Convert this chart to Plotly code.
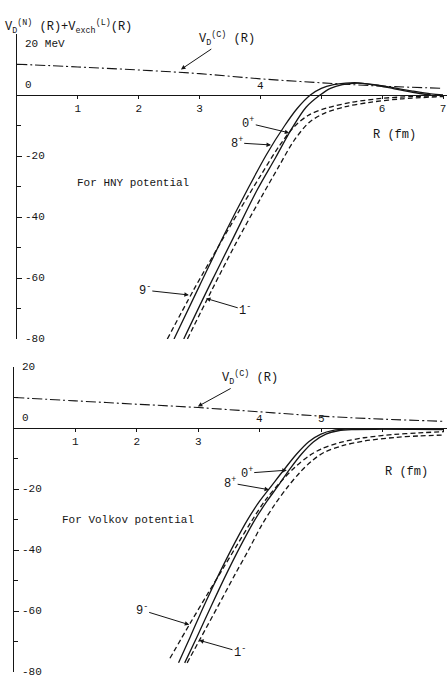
import plotly.graph_objects as go

# ---------------- data: upper panel (HNY potential) ----------------
R_coul_top = [0, 1, 2, 3, 4, 5, 6, 7]
V_coul_top = [10.1, 9.2, 8.2, 7.0, 5.3, 4.0, 2.9, 2.2]

R_8p_top = [2.58, 3.0, 3.4, 3.8, 4.1, 4.4, 4.6, 4.82, 5.0, 5.2, 5.4, 5.6, 5.9, 6.2, 6.5, 6.8, 7.0]
V_8p_top = [-80, -62.5, -46, -30.5, -19.5, -10, -4.5, 0, 2.2, 3.4, 3.9, 4.0, 3.3, 2.3, 1.3, 0.4, 0]

R_0p_top = [2.74, 3.15, 3.55, 3.95, 4.25, 4.5, 4.75, 4.98, 5.15, 5.35, 5.6, 5.9, 6.2, 6.5, 6.8]
V_0p_top = [-80, -63, -47, -31, -20.5, -11.5, -4, 0, 2.2, 3.4, 3.9, 3.2, 2.0, 0.9, 0]

R_9m_top = [2.47, 2.9, 3.3, 3.65, 4.0, 4.3, 4.55, 4.8, 5.1, 5.5, 6.0, 6.5, 7.0]
V_9m_top = [-80, -64, -50, -38, -26.5, -17, -10.5, -6.5, -4.2, -2.4, -1.1, -0.5, -0.3]

R_1m_top = [2.80, 3.2, 3.6, 4.0, 4.3, 4.55, 4.8, 5.05, 5.4, 5.8, 6.3, 7.0]
V_1m_top = [-80, -64, -48.5, -34, -23.5, -15, -9, -6, -3.8, -2.4, -1.3, -0.5]

# ---------------- data: lower panel (Volkov potential) ----------------
R_coul_bot = [0, 1, 2, 3, 4, 5, 6, 7]
V_coul_bot = [10.0, 8.9, 7.8, 6.7, 5.3, 3.9, 2.9, 2.2]

R_8p_bot = [2.68, 2.87, 3.1, 3.36, 3.6, 3.8, 4.0, 4.2, 4.4, 4.6, 4.8, 5.0, 5.2, 5.4, 6.0, 7.0]
V_8p_bot = [-77, -68.5, -58, -47, -37.5, -30.2, -24, -18.8, -13.6, -8.6, -4.5, -2.0, -0.8, -0.4, -0.3, -0.4]

R_0p_bot = [2.78, 2.98, 3.22, 3.48, 3.72, 3.92, 4.12, 4.30, 4.48, 4.68, 4.88, 5.08, 5.28, 5.5, 6.0, 7.0]
V_0p_bot = [-77, -68.5, -58, -47, -37.5, -30.2, -24, -19, -13.8, -8.6, -4.5, -2.0, -0.9, -0.5, -0.4, -0.5]

R_9m_bot = [2.54, 2.87, 3.15, 3.40, 3.65, 3.87, 4.1, 4.35, 4.58, 4.80, 5.0, 5.3, 5.7, 6.2, 6.6, 7.0]
V_9m_bot = [-75.5, -64, -54.5, -46.2, -37.8, -30.5, -23.5, -17.5, -12.8, -9.2, -6.9, -4.8, -3.2, -2.1, -1.6, -1.2]

R_1m_bot = [2.82, 3.05, 3.32, 3.60, 3.82, 4.03, 4.25, 4.45, 4.66, 4.85, 5.05, 5.35, 5.7, 6.2, 6.6, 7.0]
V_1m_bot = [-77, -68.5, -58.5, -48, -40, -32, -25, -19.5, -14.5, -10.8, -8.0, -5.8, -4.3, -3.1, -2.6, -2.3]

x_ticks = [1, 2, 3, 4, 5, 6, 7]
x_text_top = ["1", "2", "3", "", "", "6", "7"]
x_text_bot = ["1", "2", "3", "", "", "", "7"]
y_ticks = [-80, -60, -40, -20, 20]
y_text_top = ["-80", "-60", "-40", "-20", "20 MeV"]
y_text_bot = ["-80", "-60", "-40", "-20", "20"]

INK = "#151515"
FONT = "Liberation Mono"
W, H = 447, 683

fig = go.Figure()

def add_panel(xa, ya, Rc, Vc, curves):
    fig.add_trace(go.Scatter(x=Rc, y=Vc, mode="lines", xaxis=xa, yaxis=ya,
                             line=dict(color=INK, width=1.1, dash="10px,3px,2px,3px", shape="spline"),
                             showlegend=False, hoverinfo="skip"))
    for R, V, dash in curves:
        fig.add_trace(go.Scatter(x=R, y=V, mode="lines", xaxis=xa, yaxis=ya,
                                 line=dict(color=INK, width=1.3, dash=dash, shape="spline", smoothing=0.9),
                                 showlegend=False, hoverinfo="skip"))

add_panel("x", "y", R_coul_top, V_coul_top,
          [(R_8p_top, V_8p_top, "solid"), (R_0p_top, V_0p_top, "solid"),
           (R_9m_top, V_9m_top, "5px,3px"), (R_1m_top, V_1m_top, "5px,3px")])
add_panel("x2", "y2", R_coul_bot, V_coul_bot,
          [(R_8p_bot, V_8p_bot, "solid"), (R_0p_bot, V_0p_bot, "solid"),
           (R_9m_bot, V_9m_bot, "5px,3px"), (R_1m_bot, V_1m_bot, "5px,3px")])

# pixel geometry of the two panels
top_x0, top_sx = 17, 60.86
bot_x0, bot_sx = 14, 61.4
top_y0, bot_y0, sy = 95, 428, 3.05

def ydom(y0):
    return [1 - (y0 + 80 * sy) / H, 1 - (y0 - 20 * sy) / H]

font = dict(family=FONT, size=11, color=INK)
lfont = dict(family=FONT, size=12, color=INK)

common_x = dict(showgrid=False, zeroline=False, showline=True, linecolor=INK, linewidth=1.4,
                ticks="outside", ticklen=3, tickcolor=INK, tickvals=x_ticks,
                tickfont=font, anchor="free", fixedrange=True)
common_y = dict(showgrid=False, zeroline=False, showline=True, linecolor=INK, linewidth=1.4,
                ticks="inside", ticklen=5, tickcolor=INK, tickvals=[-80, -60, -40, -20, 0, 20],
                showticklabels=False, range=[-80, 20],
                minor=dict(dtick=10, ticks="inside", ticklen=4, tickcolor=INK), fixedrange=True)

fig.update_layout(
    width=W, height=H, margin=dict(l=0, r=0, t=0, b=0),
    paper_bgcolor="white", plot_bgcolor="white", font=font,
    xaxis=dict(common_x, domain=[top_x0 / W, 1], range=[0, (W - top_x0) / top_sx],
               ticktext=x_text_top, position=1 - top_y0 / H),
    yaxis=dict(common_y, domain=ydom(top_y0), anchor="x"),
    xaxis2=dict(common_x, domain=[bot_x0 / W, 1], range=[0, (W - bot_x0) / bot_sx],
                ticktext=x_text_bot, position=1 - bot_y0 / H),
    yaxis2=dict(common_y, domain=ydom(bot_y0), anchor="x2"),
)

ann = []
def txt(text, x, y, xr, yr, **kw):
    d = dict(text=text, x=x, y=y, xref=xr, yref=yr, showarrow=False, font=font)
    d.update(kw)
    ann.append(d)

def arrow(text, tip, tail, xr, yr):
    ann.append(dict(text=text, x=tip[0], y=tip[1], ax=tail[0], ay=tail[1], xref=xr, yref=yr,
                    axref=xr, ayref=yr, showarrow=True, arrowhead=2, arrowsize=0.9,
                    arrowwidth=1, arrowcolor=INK, font=lfont, standoff=1))

# y tick labels (inside, right of the axis)
for v, t in zip(y_ticks, y_text_top):
    kw = dict(yanchor="top", yshift=-2) if v == 20 else {}
    txt(t, 0, v, "x", "y", xanchor="left", xshift=6, **kw)
for v, t in zip(y_ticks, y_text_bot):
    txt(t, 0, v, "x2", "y2", xanchor="left", xshift=6)

# top panel annotations
txt("V<sub>D</sub><sup>(N)</sup> (R)+V<sub>exch</sub><sup>(L)</sup>(R)", 3 / W, 1 - 16 / H,
    "paper", "paper", xanchor="left", font=lfont)
txt("0", 0, 0, "x", "y", xanchor="left", xshift=6, yanchor="bottom", yshift=2)
txt("4", 4, 0, "x", "y", yanchor="bottom", yshift=1)
arrow("V<sub>D</sub><sup>(C)</sup> (R)", (2.68, 8.2), (3.45, 18.5), "x", "y")
arrow("0<sup>+</sup>", (4.49, -12.5), (3.80, -9.2), "x", "y")
arrow("8<sup>+</sup>", (4.19, -16.4), (3.61, -15.7), "x", "y")
arrow("9<sup>-</sup>", (2.84, -65.6), (2.10, -64), "x", "y")
arrow("1<sup>-</sup>", (3.09, -66.6), (3.75, -70.5), "x", "y")
txt("R (fm)", 6.21, -13.1, "x", "y", font=lfont)
txt("For HNY potential", 0.95, -28.9, "x", "y", xanchor="left")

# bottom panel annotations
txt("0", 0, 0, "x2", "y2", xanchor="left", xshift=6, yanchor="bottom", yshift=2)
txt("4", 4, 0, "x2", "y2", yanchor="bottom", yshift=1)
txt("5", 5, 0, "x2", "y2", yanchor="bottom", yshift=1)
arrow("V<sub>D</sub><sup>(C)</sup> (R)", (2.98, 6.9), (3.84, 16.4), "x2", "y2")
arrow("0<sup>+</sup>", (4.46, -13.8), (3.79, -14.8), "x2", "y2")
arrow("8<sup>+</sup>", (4.17, -20.3), (3.52, -18.0), "x2", "y2")
arrow("9<sup>-</sup>", (2.87, -64.6), (2.08, -59.7), "x2", "y2")
arrow("1<sup>-</sup>", (3.0, -69.5), (3.68, -73.4), "x2", "y2")
txt("R (fm)", 6.4, -14.4, "x2", "y2", font=lfont)
txt("For Volkov potential", 0.75, -30.2, "x2", "y2", xanchor="left")

fig.update_layout(annotations=ann)
fig.write_html("out.html")
